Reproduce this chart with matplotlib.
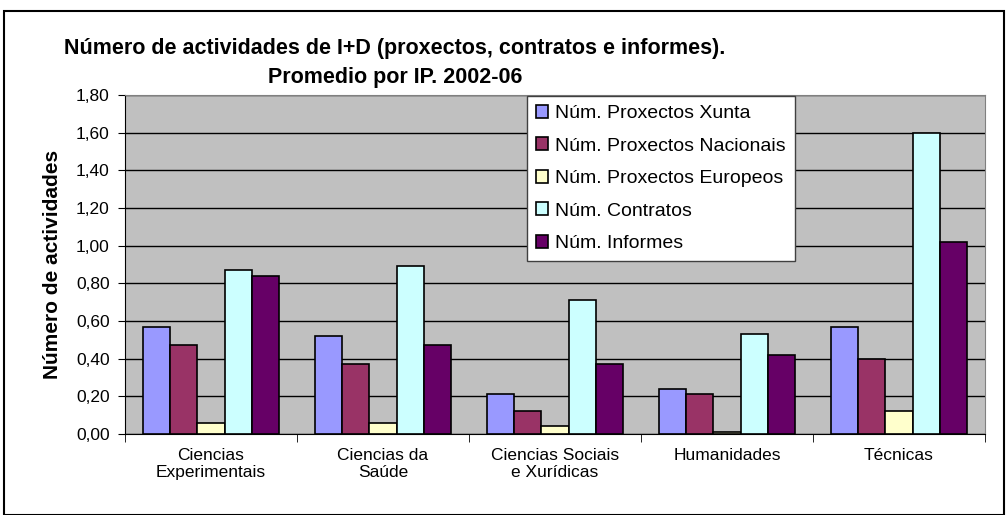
import matplotlib.pyplot as plt
import numpy as np
from matplotlib.patches import Rectangle

plt.rcParams['font.family'] = ['Liberation Sans', 'DejaVu Sans']

categories = ['Ciencias\nExperimentais', 'Ciencias da\nSaúde', 'Ciencias Sociais\ne Xurídicas',
              'Humanidades', 'Técnicas']
series = ['Núm. Proxectos Xunta', 'Núm. Proxectos Nacionais', 'Núm. Proxectos Europeos',
          'Núm. Contratos', 'Núm. Informes']
xunta = [0.57, 0.52, 0.21, 0.24, 0.57]
nacionais = [0.47, 0.37, 0.12, 0.21, 0.40]
europeos = [0.06, 0.06, 0.04, 0.01, 0.12]
contratos = [0.87, 0.89, 0.71, 0.53, 1.60]
informes = [0.84, 0.47, 0.37, 0.42, 1.02]
colors = ['#9999FF', '#993366', '#FFFFCC', '#CCFFFF', '#660066']

fig = plt.figure(figsize=(10.08, 5.15), dpi=100)
ax = fig.add_axes([125/1008, 1-434/515, 860/1008, 339/515])
ax.set_facecolor('#C0C0C0')

x = np.arange(len(categories))
w = 0.158
for i, (vals, lab) in enumerate(zip([xunta, nacionais, europeos, contratos, informes], series)):
    ax.bar(x + (i - 2) * w, vals, w, color=colors[i], edgecolor='black', linewidth=1.2,
           label=lab, zorder=3)

ax.set_xlim(-0.5, len(categories) - 0.5)
ax.set_ylim(0, 1.8)
yt = np.arange(0, 1.81, 0.2)
ax.set_yticks(yt)
ax.set_yticklabels([f'{v:.2f}'.replace('.', ',') for v in yt], fontsize=12.5)
ax.yaxis.grid(True, color='black', linewidth=1)
ax.set_axisbelow(True)
ax.set_xticks(x)
ax.set_xticklabels(categories, fontsize=12.5)
ax.tick_params(axis='x', length=0, pad=10)
ax.set_xticks(np.arange(-0.5, len(categories)), minor=True)
ax.tick_params(axis='x', which='minor', length=6, direction='out')
ax.tick_params(axis='y', length=5, direction='out', pad=6)
for s in ['top', 'right']:
    ax.spines[s].set_color('#808080')
ax.spines['left'].set_color('black')
ax.spines['bottom'].set_color('black')

ax.set_ylabel('Número de actividades', fontsize=15, fontweight='bold', labelpad=10)
fig.text(395/1008, 1 - 63/515, 'Número de actividades de I+D (proxectos, contratos e informes).\nPromedio por IP. 2002-06',
         ha='center', va='center', multialignment='center', fontsize=15.5, fontweight='bold',
         linespacing=1.55)

leg = ax.legend(loc='upper left', fontsize=14, frameon=True, fancybox=False, edgecolor='#404040',
                framealpha=1, handlelength=0.65, handleheight=0.65, handletextpad=0.35,
                labelspacing=0.78, borderpad=0.45, borderaxespad=0)
leg.set_bbox_to_anchor((527/1008, 1 - 96/515), transform=fig.transFigure)
leg.get_frame().set_linewidth(1)

fig.patches.append(Rectangle((4/1008, 0), 1000/1008, 1 - 11/515, transform=fig.transFigure,
                             fill=False, edgecolor='black', linewidth=1.5))

fig.savefig('out.png', dpi=100)
